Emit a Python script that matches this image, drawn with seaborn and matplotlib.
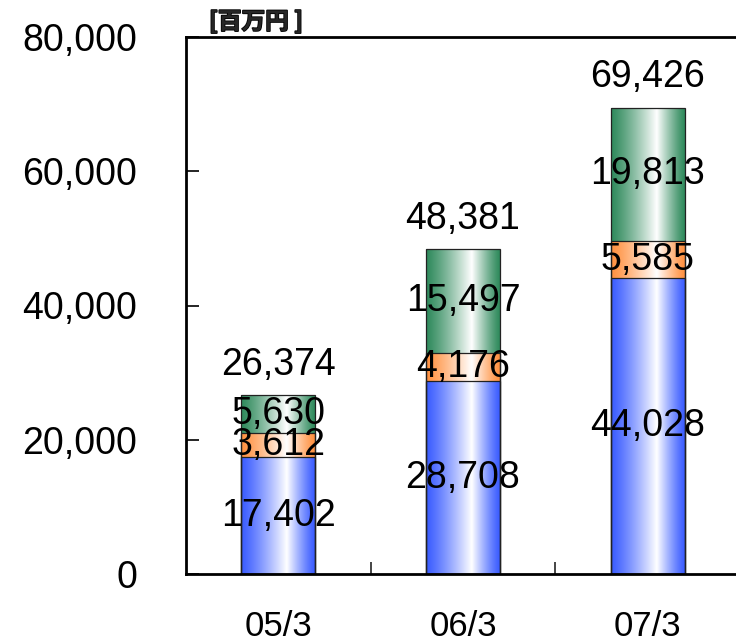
import numpy as np
import pandas as pd
import matplotlib
matplotlib.use("Agg")
import matplotlib.pyplot as plt
from matplotlib.colors import to_rgb
import matplotlib.patheffects as pe
import seaborn as sns

# Fiscal periods and the three stacked components (million yen)
periods = ["05/3", "06/3", "07/3"]
segment_bottom = [17402, 28708, 44028]
segment_middle = [3612, 4176, 5585]
segment_top = [5630, 15497, 19813]
totals = [26374, 48381, 69426]
yticks = [0, 20000, 40000, 60000, 80000]
unit_label = "[百万円 ]"

colors = {"bottom": "#3a5cff", "middle": "#ff9140", "top": "#2f8a5c"}

sns.set_theme(style="white")
plt.rcParams["font.family"] = ["Liberation Sans", "DejaVu Sans"]

fig = plt.figure(figsize=(7.36, 6.44), dpi=100)
ax = fig.add_axes([186 / 736, 70 / 644, 554 / 736, 537 / 644])

df = pd.DataFrame({
    "period": periods,
    "bottom": segment_bottom,
    "middle": segment_middle,
    "top": segment_top,
})
df["cum_mid"] = df["bottom"] + df["middle"]
df["cum_top"] = df["cum_mid"] + df["top"]

# Overlay cumulative bars: tallest first, so each layer shows its own segment
layers = [("cum_top", "top"), ("cum_mid", "middle"), ("bottom", "bottom")]
layer_patches = []
for col, key in layers:
    n_before = len(ax.patches)
    sns.barplot(data=df, x="period", y=col, color=colors[key], width=0.4,
                edgecolor="#222222", linewidth=0.9, saturation=1, ax=ax)
    layer_patches.append((key, ax.patches[n_before:]))


def gradient_row(base, n=256, peak=0.62):
    t = np.linspace(0, 1, n)
    w = np.where(t < peak, t / peak, (1 - t) / (1 - peak))
    w = np.clip(w, 0, 1) ** 1.2
    c = np.array(to_rgb(base))
    rgb = c[None, :] * (1 - w[:, None]) + np.ones(3)[None, :] * w[:, None]
    return rgb[None, :, :]


# Fill each bar with a horizontal metallic-style gradient
for level, (key, patches) in enumerate(layer_patches):
    img = gradient_row(colors[key])
    for p in patches:
        x0, y0 = p.get_x(), p.get_y()
        w, h = p.get_width(), p.get_height()
        im = ax.imshow(img, extent=(x0, x0 + w, y0, y0 + h), aspect="auto",
                       interpolation="bilinear", zorder=1 + level * 0.1)
        im.set_clip_path(p)
        p.set_facecolor("none")
        p.set_zorder(2)

ax.set_xlim(-0.5, 2.5)
ax.set_ylim(0, 80000)
ax.set_xlabel("")
ax.set_ylabel("")

# Segment value labels at the middle of each segment, totals above the stack
for i in range(len(periods)):
    b, m, t = segment_bottom[i], segment_middle[i], segment_top[i]
    centers = [b / 2, b + m / 2, b + m + t / 2]
    for val, yc in zip([b, m, t], centers):
        ax.text(i, yc, f"{val:,}", ha="center", va="center", fontsize=27,
                color="black", zorder=5)
    ax.annotate(f"{totals[i]:,}", xy=(i, b + m + t), xytext=(0, 9),
                textcoords="offset points", ha="center", va="bottom",
                fontsize=27, color="black", zorder=5)

ax.set_yticks(yticks)
ax.set_yticklabels([f"{v:,}" if v else "0" for v in yticks], fontsize=27)
ax.set_xticks(range(len(periods)))
ax.set_xticklabels(periods, fontsize=25)
ax.set_xticks([0.5, 1.5], minor=True)

ax.tick_params(axis="y", direction="in", length=9, width=1.2, pad=35,
               left=True, colors="black")
ax.tick_params(axis="x", which="major", length=0, pad=26, colors="black")
ax.tick_params(axis="x", which="minor", direction="in", length=9, width=1.2,
               bottom=True)

for side in ["left", "top", "bottom"]:
    ax.spines[side].set_visible(True)
    ax.spines[side].set_color("black")
    ax.spines[side].set_linewidth(2)
ax.spines["right"].set_visible(False)

unit = fig.text(209 / 736, 1 - 22 / 644, unit_label, fontsize=17,
                fontweight="bold", family=["Noto Sans CJK JP", "DejaVu Sans"],
                ha="left", va="center")
unit.set_path_effects([pe.withStroke(linewidth=1.2, foreground="black")])

fig.savefig("out.png", dpi=100)
